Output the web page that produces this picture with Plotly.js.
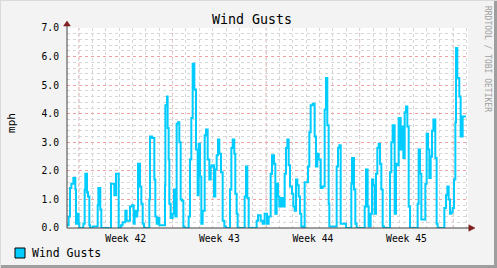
<!DOCTYPE html>
<html><head><meta charset="utf-8">
<script src="https://cdn.plot.ly/plotly-3.0.1.min.js"></script>
<style>html,body{margin:0;padding:0;background:#F3F3F3;overflow:hidden;}</style>
</head><body><div id="chart" style="width:497px;height:268px;"></div>
<script>
// Time in hours from the start of the graph window, gust values in mph
const hours = [0,3.0,5.4,7.8,11.4,15.0,16.2,18.0,20.9,22.1,29.3,31.7,32.9,35.9,37.7,40.1,41.3,46.1,55.1,56.3,59.8,61.6,79.0,85.0,88.0,92.8,97.0,99.9,104.7,107.1,113.1,116.7,119.7,121.5,123.9,126.3,127.5,131.1,133.5,135.9,138.3,147.8,149.0,152.6,156.8,158.6,161.0,163.4,165.8,176.0,176.6,179.6,
180.7,182.5,183.7,186.1,189.7,192.1,194.5,196.9,199.3,201.7,204.1,206.5,208.9,210.7,218.5,220.8,223.2,225.6,228.6,231.6,234.6,236.4,238.8,241.2,243.6,247.2,249.6,252.6,255.6,258.0,260.3,263.9,266.3,268.7,271.1,273.5,276.5,279.5,282.5,285.5,292.7,295.1,297.5,300.4,302.2,304.6,306.4,319.0,321.4,323.8,326.2,340.5,342.9,347.7,351.3,354.9,
359.1,362.1,365.7,368.1,371.7,374.1,376.5,378.9,381.2,384.8,388.4,390.8,393.2,395.6,398.0,400.4,404.0,406.4,408.8,411.2,413.6,416.0,418.4,420.7,423.1,426.7,432.7,435.1,437.5,441.1,444.7,447.1,449.5,451.9,455.5,459.1,462.6,465.0,467.4,469.8,471.0,484.2,486.6,489.0,491.4,500.9,510.5,511.7,515.3,517.7,520.1,534.5,536.9,
539.8,541.6,545.2,547.6,550.0,552.4,554.8,557.2,559.6,562.0,564.4,566.8,569.2,579.9,582.3,584.7,588.3,590.7,593.1,595.5,599.1,601.5,603.9,606.3,608.7,611.1,613.5,615.9,629.6,631.4,633.8,636.2,643.4,645.8,648.2,650.6,653.0,655.4,657.8,661.3,663.7,665.5,677.5,680.5,682.9,685.3,687.7,690.1,692.5,694.9,697.3,698.5,700.8,704.4,706.8,710.4,716.4];
const gusts = [0.1,0.4,1.4,1.55,1.75,1.35,0.15,0.5,0.15,0,0.15,1.35,1.9,1.25,1.1,0.1,0,0.05,0.8,1.4,0.65,0,1.55,1.15,1.9,0,0.1,0.2,0.6,0.25,0.75,0.8,0.15,0.6,0.4,0.6,2.25,1.45,0.85,0.15,0,1.0,3.2,3.15,1.7,0.4,0.15,0.35,0.1,1.5,4.3,4.6,
3.5,2.4,0.85,0.35,0.5,1.35,0.4,3.65,3.7,3.0,1.0,0.95,0.05,0,0.4,2.4,3.85,5.75,4.85,2.75,1.15,2.95,1.8,0.15,0.6,3.25,3.45,2.4,1.7,2.15,2.2,1.1,2.05,2.55,3.1,2.6,1.95,0.25,0.05,0,1.35,2.8,3.1,2.6,1.2,0.5,0,1.1,2.15,1.05,0,0.25,0.45,0.25,0.15,0.5,
0.15,0.4,1.9,2.55,2.25,0.5,1.55,1.1,0.75,1.05,0.75,1.9,2.8,3.1,2.2,1.45,1.2,0.75,0.6,1.7,1.5,1.1,0.5,0.05,0,1.6,2.15,3.35,4.3,4.35,3.2,2.15,2.6,2.4,1.4,1.45,4.15,5.25,3.6,0.85,0.05,2.15,2.8,2.9,0.15,0,1.55,2.45,1.35,0.15,0,0.75,2.05,
0.75,0.05,0.5,1.7,1.5,0.5,1.9,2.8,2.95,2.25,1.35,0.05,0,1.95,3.0,3.6,0.5,2.25,2.2,3.85,2.75,3.55,2.45,4.05,4.25,3.55,0.75,0,0.85,2.75,1.9,0.3,1.55,3.3,2.75,1.75,2.5,3.4,3.8,2.45,0.15,0,0.7,1.15,1.45,1.0,0.5,0.55,0.7,1.7,3.7,6.3,5.25,4.6,3.2,3.9,3.9];
const weekStarts = [21.5,189.5,357.5,525.5,693.5];
const weekLabelPos = [105.5,273.5,441.5,609.5];
const weekLabels = ['Week 42','Week 43','Week 44','Week 45'];
const seriesName = 'Wind Gusts';
const unitLabel = 'mph';

const MONO = 'DejaVu Sans Mono, monospace';
const MGRID = '#F0A2A2';
const GRID = '#D6D6D6';
const AX = '#404040';
const ARROW = '#7F1F1F';

const trace = {
  x: hours, y: gusts, type: 'scatter', mode: 'lines', name: seriesName,
  line: {color: '#00CCFF', width: 2, shape: 'hv'}, hoverinfo: 'skip', showlegend: false
};

const shapes = [];
weekStarts.forEach(w => shapes.push({type:'line', xref:'x', yref:'paper', x0:w, x1:w, y0:0, y1:1,
  line:{color:MGRID, width:1, dash:'dot'}, layer:'between'}));
// axis lines
shapes.push({type:'line', xref:'paper', yref:'paper', x0:0, x1:0, y0:0, y1:1.02, line:{color:AX, width:1}, layer:'above'});
shapes.push({type:'line', xref:'paper', yref:'paper', x0:0, x1:1.01, y0:0, y1:0, line:{color:AX, width:1}, layer:'above'});
// arrows
shapes.push({type:'path', xref:'paper', yref:'paper', path:'M -0.0085,1.01 L 0.0085,1.01 L 0,1.035 Z', fillcolor:ARROW, line:{color:ARROW, width:0.5}, layer:'above'});
shapes.push({type:'path', xref:'paper', yref:'paper', path:'M 1.002,0.016 L 1.002,-0.016 L 1.0175,0 Z', fillcolor:ARROW, line:{color:ARROW, width:0.5}, layer:'above'});
// frame shading
shapes.push({type:'line', xref:'paper', yref:'paper', x0:1.0686, x1:1.0686, y0:-0.2, y1:1.14, line:{color:'#9E9E9E', width:3}, layer:'above'});
shapes.push({type:'line', xref:'paper', yref:'paper', x0:-0.1671, x1:1.0723, y0:-0.1925, y1:-0.1925, line:{color:'#9E9E9E', width:3}, layer:'above'});
shapes.push({type:'line', xref:'paper', yref:'paper', x0:-0.1671, x1:1.0723, y0:1.1375, y1:1.1375, line:{color:'#DADADA', width:1}, layer:'above'});
shapes.push({type:'line', xref:'paper', yref:'paper', x0:-0.1658, x1:-0.1658, y0:-0.2, y1:1.14, line:{color:'#DADADA', width:1}, layer:'above'});
// legend swatch
shapes.push({type:'rect', xref:'paper', yref:'paper', x0:-0.1297, x1:-0.1047, y0:-0.1, y1:-0.15, fillcolor:'#00CCFF', line:{color:'#000000', width:1}, layer:'above'});

const layout = {
  width: 497, height: 268,
  margin: {l:67, r:29, t:28, b:40, pad:0},
  paper_bgcolor: '#F3F3F3', plot_bgcolor: '#FFFFFF',
  showlegend: false,
  title: {text: 'Wind Gusts', x: 0.507, xanchor:'center', y: 0.929, yanchor:'middle',
          font: {family: MONO, size: 13.3, color: '#000'}},
  xaxis: {
    type:'linear', range:[0,720], fixedrange:true,
    tickmode:'array', tickvals: weekLabelPos, ticktext: weekLabels,
    showgrid:false, zeroline:false, showline:false, ticks:'',
    ticklabelstandoff: 3,
    tickfont:{family:MONO, size:9.7, color:'#000'},
    minor:{tickmode:'linear', tick0:21.5, dtick:24, showgrid:true, gridcolor:GRID, griddash:'dot', gridwidth:1, ticks:''}
  },
  yaxis: {
    range:[0,7], fixedrange:true, tickmode:'linear', tick0:0, dtick:1, tickformat:'.1f',
    showgrid:true, gridcolor:MGRID, griddash:'dot', gridwidth:1,
    zeroline:false, showline:false, ticks:'', ticklabelstandoff: 7,
    tickfont:{family:MONO, size:9.7, color:'#000'},
    minor:{tickmode:'linear', tick0:0, dtick:0.2, showgrid:true, gridcolor:GRID, griddash:'dot', gridwidth:1, ticks:''}
  },
  shapes: shapes,
  annotations: [
    {text: unitLabel, xref:'paper', yref:'paper', x:-0.1397, y:0.525, textangle:-90, showarrow:false,
     xanchor:'center', yanchor:'middle', font:{family:MONO, size:11, color:'#000'}},
    {text: seriesName, xref:'paper', yref:'paper', x:-0.0923, y:-0.125, showarrow:false,
     xanchor:'left', yanchor:'middle', font:{family:MONO, size:11.5, color:'#000'}},
    {text: 'RRDTOOL / TOBI OETIKER', xref:'paper', yref:'paper', x:1.0499, y:0.845, textangle:90, showarrow:false,
     xanchor:'center', yanchor:'middle', font:{family:MONO, size:8, color:'#A0A0A0'}}
  ]
};

Plotly.newPlot('chart', [trace], layout, {displayModeBar:false, staticPlot:true});
</script></body></html>
